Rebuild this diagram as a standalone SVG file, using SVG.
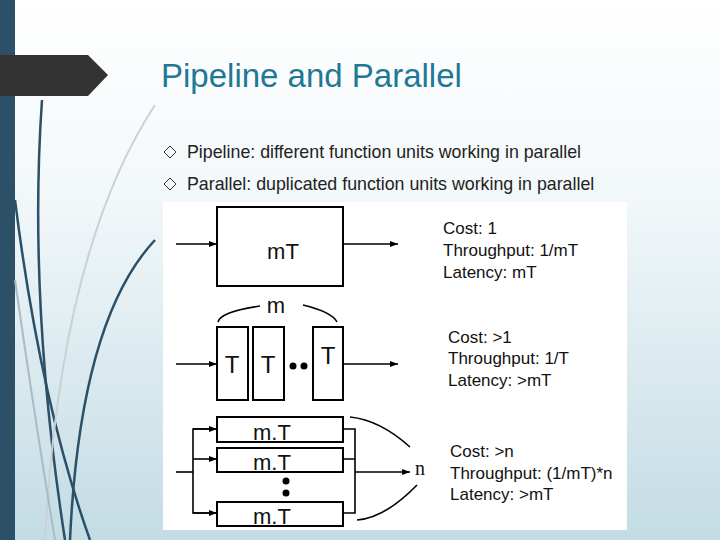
<svg xmlns="http://www.w3.org/2000/svg" width="720" height="540" viewBox="0 0 720 540">
<defs>
<linearGradient id="bg" x1="0" y1="0" x2="0" y2="1"><stop offset="0" stop-color="#ffffff"/><stop offset="0.35" stop-color="#f3f8fa"/><stop offset="1" stop-color="#c3dce4"/></linearGradient>
<marker id="ah" markerWidth="8" markerHeight="6" refX="8" refY="3" orient="auto" markerUnits="userSpaceOnUse"><path d="M0,0 L8,3 L0,6 z" fill="#000"/></marker>
<style>
.ln{stroke:#000;stroke-width:1.6;fill:none}
.bx{stroke:#000;stroke-width:2;fill:#fff}
.lab{font-family:"Liberation Sans",Arial,sans-serif;fill:#111}
.deco{fill:none;stroke:#2b5068;stroke-width:2.5}
</style>
</defs>
<rect width="720" height="540" fill="url(#bg)"/>
<rect x="0" y="0" width="15" height="540" fill="#2b5068"/>
<g id="deco">
<path class="deco" d="M42,100 Q28,300 65,540"/>
<path class="deco" d="M15,200 Q40,400 90,540"/>
<path class="deco" d="M155,240 Q80,320 70,540"/>
<path d="M155,105 Q60,250 45,540" fill="none" stroke="#c8d2d6" stroke-width="2"/>
<path d="M15,280 Q35,420 55,540" fill="none" stroke="#a9bcc4" stroke-width="2"/>
</g>
<path d="M0,55 L88,55 L108,75 L88,96 L0,96 z" fill="#333"/>
<text x="161" y="87" font-family="Liberation Sans,Arial,sans-serif" font-size="33" fill="#1f7896">Pipeline and Parallel</text>
<g font-family="Liberation Sans,Arial,sans-serif" font-size="17.8" fill="#222">
<path d="M170,146 L176,152 L170,158 L164,152 z" fill="none" stroke="#333" stroke-width="1"/>
<text x="187" y="158">Pipeline: different function units working in parallel</text>
<path d="M170,178 L176,184 L170,190 L164,184 z" fill="none" stroke="#333" stroke-width="1"/>
<text x="187" y="190">Parallel: duplicated function units working in parallel</text>
</g>
<rect x="163" y="202" width="464" height="328" fill="#fff"/>
<g id="connectors">
<line class="ln" x1="176" y1="244" x2="217" y2="244" marker-end="url(#ah)"/>
<line class="ln" x1="343" y1="244" x2="398" y2="244" marker-end="url(#ah)"/>
<line class="ln" x1="176" y1="364" x2="217" y2="364" marker-end="url(#ah)"/>
<line class="ln" x1="343" y1="364" x2="398" y2="364" marker-end="url(#ah)"/>
<path class="ln" d="M218,322 Q220,312 260,306"/>
<path class="ln" d="M303,305 Q332,312 337,322"/>
<line class="ln" x1="176" y1="472" x2="193" y2="472"/>
<path class="ln" d="M217,429 L193,429 L193,513 L217,513"/>
<line class="ln" x1="193" y1="459" x2="217" y2="459" marker-end="url(#ah)"/>
<line class="ln" x1="193" y1="429" x2="217" y2="429" marker-end="url(#ah)"/>
<line class="ln" x1="193" y1="513" x2="217" y2="513" marker-end="url(#ah)"/>
<path class="ln" d="M343,429 L355,429 L355,513 L343,513 M343,459 L355,459"/>
<line class="ln" x1="355" y1="472" x2="410" y2="472" marker-end="url(#ah)"/>
<path class="ln" d="M350,417 Q380,420 410,447"/>
<path class="ln" d="M357,520 Q385,518 417,485"/>
</g>
<g id="n-box1"><rect class="bx" x="217" y="207" width="126" height="79"/><text class="lab" x="283" y="259" font-size="22" text-anchor="middle">mT</text></g>
<g id="n-t1"><rect class="bx" x="217" y="327" width="31" height="73"/><text class="lab" x="232" y="373" font-size="24" text-anchor="middle">T</text></g>
<g id="n-t2"><rect class="bx" x="253" y="327" width="31" height="73"/><text class="lab" x="268" y="373" font-size="24" text-anchor="middle">T</text></g>
<g id="n-t3"><rect class="bx" x="313" y="327" width="30" height="73"/><text class="lab" x="328" y="364" font-size="24" text-anchor="middle">T</text></g>
<g id="n-dots1"><circle cx="293" cy="366" r="3.5"/><circle cx="304" cy="366" r="3.5"/></g>
<text class="lab" x="276" y="313" font-size="22" text-anchor="middle">m</text>
<g id="n-p1"><rect class="bx" x="217" y="417" width="126" height="25"/><text class="lab" x="272" y="440" font-size="22" text-anchor="middle">m.T</text></g>
<g id="n-p2"><rect class="bx" x="217" y="448" width="126" height="24"/><text class="lab" x="272" y="470" font-size="22" text-anchor="middle">m.T</text></g>
<g id="n-p3"><rect class="bx" x="217" y="502" width="126" height="24"/><text class="lab" x="272" y="524" font-size="22" text-anchor="middle">m.T</text></g>
<g id="n-dots2"><circle cx="286" cy="481" r="3.5"/><circle cx="286" cy="493" r="3.5"/></g>
<text x="415" y="475" font-family="Liberation Serif,serif" font-size="20" fill="#111">n</text>
<g class="lab" font-size="17">
<text x="443" y="234">Cost: 1</text><text x="443" y="256">Throughput: 1/mT</text><text x="443" y="278">Latency: mT</text>
<text x="448" y="343">Cost: &gt;1</text><text x="448" y="364">Throughput: 1/T</text><text x="448" y="386">Latency: &gt;mT</text>
<text x="450" y="457">Cost: &gt;n</text><text x="450" y="479">Throughput: (1/mT)*n</text><text x="450" y="500">Latency: &gt;mT</text>
</g>
</svg>
